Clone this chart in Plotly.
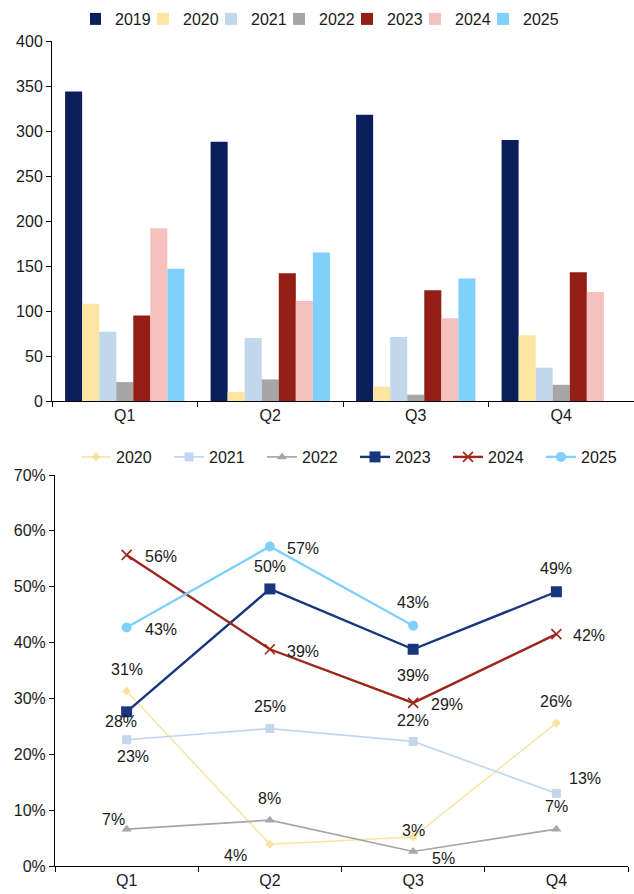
import plotly.graph_objects as go

# ---------------- data ----------------
quarters = ["Q1", "Q2", "Q3", "Q4"]

bar_years = ["2019", "2020", "2021", "2022", "2023", "2024", "2025"]
bar_2019 = [344, 288, 318, 290]
bar_2020 = [108, 10, 16, 73]
bar_2021 = [77, 70, 71, 37]
bar_2022 = [21, 24, 7, 18]
bar_2023 = [95, 142, 123, 143]
bar_2024 = [192, 111, 92, 121]
bar_2025 = [147, 165, 136, None]

line_years = ["2020", "2021", "2022", "2023", "2024", "2025"]
pct_2020 = [31.3, 3.9, 5.2, 25.6]
pct_2021 = [22.6, 24.6, 22.3, 13.0]
pct_2022 = [6.6, 8.2, 2.6, 6.6]
pct_2023 = [27.6, 49.6, 38.8, 49.1]
pct_2024 = [55.7, 38.8, 29.2, 41.5]
pct_2025 = [42.7, 57.2, 43.0, None]

bar_ticks = [0, 50, 100, 150, 200, 250, 300, 350, 400]
pct_ticks = [0, 10, 20, 30, 40, 50, 60, 70]
pct_tick_labels = ["0%", "10%", "20%", "30%", "40%", "50%", "60%", "70%"]

# ---------------- styles ----------------
FONT = "Liberation Sans, Arial, sans-serif"
TXT = "#1a1a1a"
bar_colors = ["#0B1F5C", "#FBE5A0", "#C2D7EC", "#A6A6A6", "#921E15", "#F5C0BE", "#7FD0FA"]

line_styles = {
    "2020": dict(color="#F9E29C", width=1.4, symbol="diamond", size=7),
    "2021": dict(color="#C2D7EE", width=1.7, symbol="square", size=9),
    "2022": dict(color="#A6A6A6", width=1.7, symbol="triangle-up", size=9),
    "2023": dict(color="#17367E", width=2.4, symbol="square", size=11),
    "2024": dict(color="#9E2519", width=2.4, symbol="x-thin-open", size=10),
    "2025": dict(color="#7FD0FA", width=2.4, symbol="circle", size=10),
}
# label offsets in screen pixels (dx right, dy down)
label_offsets = {
    "2020": [(0, -22), (-34, 11), (30, 22), (0, -22)],
    "2021": [(6, 17), (0, -22), (0, -21), (29, -15)],
    "2022": [(-13, -10), (0, -22), (0, -21), (0, -23)],
    "2023": [(-6, 10), (0, -22), (0, 26), (0, -23)],
    "2024": [(34, 2), (33, 2), (34, 2), (33, 1)],
    "2025": [(34, 2), (33, 2), (0, -23), (0, 0)],
}

bar_series = [bar_2019, bar_2020, bar_2021, bar_2022, bar_2023, bar_2024, bar_2025]
pct_series = [pct_2020, pct_2021, pct_2022, pct_2023, pct_2024, pct_2025]

fig = go.Figure()

for name, vals, col in zip(bar_years, bar_series, bar_colors):
    fig.add_trace(go.Bar(
        x=quarters, y=vals, name=name, marker=dict(color=col, line=dict(width=0)),
        xaxis="x", yaxis="y", legend="legend",
    ))

annotations = []
for name, vals in zip(line_years, pct_series):
    st = line_styles[name]
    mk = dict(symbol=st["symbol"], size=st["size"], color=st["color"])
    if st["symbol"] == "x-thin-open":
        mk["line"] = dict(color=st["color"], width=1.6)
    fig.add_trace(go.Scatter(
        x=quarters, y=vals, name=name, mode="lines+markers",
        line=dict(color=st["color"], width=st["width"]), marker=mk,
        xaxis="x2", yaxis="y2", legend="legend2",
    ))
    for q, v, (dx, dy) in zip(quarters, vals, label_offsets[name]):
        if v is None:
            continue
        annotations.append(dict(
            x=q, y=v, xref="x2", yref="y2", text=f"{v:.0f}%", showarrow=False,
            xshift=dx, yshift=-dy, font=dict(family=FONT, size=16, color=TXT),
        ))

W, H = 634, 894
axis_common = dict(
    showgrid=False, zeroline=False, showline=True, linecolor="#000000", linewidth=1,
    ticks="outside", ticklen=5, tickcolor="#000000", automargin=False,
    tickfont=dict(family=FONT, size=16, color=TXT),
)

fig.update_layout(
    width=W, height=H, margin=dict(l=0, r=0, t=0, b=0, pad=0, autoexpand=False),
    paper_bgcolor="white", plot_bgcolor="white",
    barmode="group", bargap=0.18, bargroupgap=0,
    font=dict(family=FONT, size=16, color=TXT),
    xaxis=dict(domain=[52 / W, 1.0], anchor="y", type="category", range=[-0.5, 3.5],
               tickson="boundaries", **axis_common),
    yaxis=dict(domain=[1 - 401 / H, 1 - 41 / H], anchor="x", range=[0, 400],
               tickmode="array", tickvals=bar_ticks, **axis_common),
    xaxis2=dict(domain=[55 / W, 628 / W], anchor="y2", type="category", range=[-0.5, 3.5],
                tickson="boundaries", **axis_common),
    yaxis2=dict(domain=[1 - 866 / H, 1 - 475 / H], anchor="x2", range=[0, 70],
                tickmode="array", tickvals=pct_ticks, ticktext=pct_tick_labels,
                **axis_common),
    legend=dict(orientation="h", x=90 / W, xanchor="left", y=1 - 19 / H, yanchor="middle",
                entrywidth=38, indentation=-15, font=dict(family=FONT, size=16, color=TXT),
                bgcolor="rgba(0,0,0,0)", traceorder="normal"),
    legend2=dict(orientation="h", x=1.0, xanchor="right", y=1 - 457 / H, yanchor="middle",
                 entrywidth=48, font=dict(family=FONT, size=16, color=TXT),
                 bgcolor="rgba(0,0,0,0)", traceorder="normal"),
    annotations=annotations,
    showlegend=True,
)

fig.write_html("out.html", post_script="document.body.style.margin='0px';",
               config={"displayModeBar": False})
